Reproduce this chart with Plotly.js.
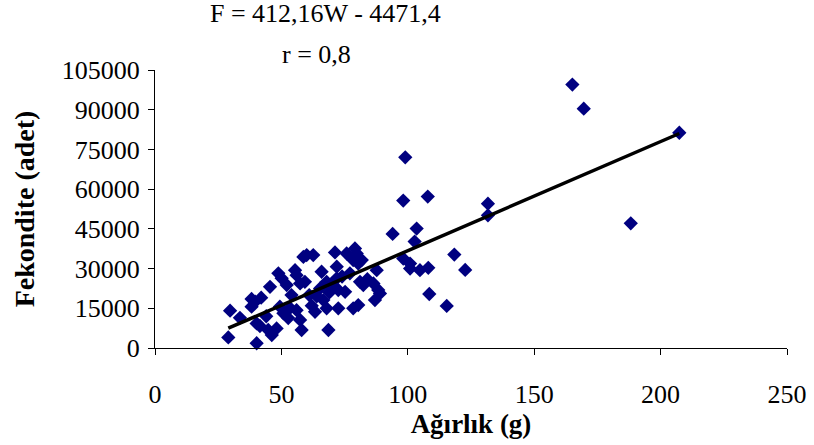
<!DOCTYPE html>
<html>
<head>
<meta charset="utf-8">
<script src="https://cdn.plot.ly/plotly-3.0.1.min.js"></script>
<style>html,body{margin:0;padding:0;background:#fff;}#chart{width:814px;height:445px;}</style>
</head>
<body>
<div id="chart"></div>
<script>
// Weight (g)
const weight = [29.7,29.0,33.6,38.2,39.6,38.2,40.2,41.5,40.2,45.5,48.8,50.1,52.1,44.8,46.2,48.1,49.4,50.8,52.7,53.4,
  55.4,56.0,57.4,59.3,57.4,58.0,56.0,58.7,60.0,62.6,63.3,65.3,65.9,66.6,67.9,68.6,67.9,71.2,71.9,71.9,
  72.5,72.5,75.2,75.8,77.1,78.4,79.1,79.8,78.4,80.4,81.1,82.4,80.4,81.8,86.4,87.7,88.3,89.0,87.0,
  94.0,98.2,100.9,100.9,104.8,108.1,108.5,115.4,118.4,122.7,102.7,103.5,98.2,99.0,107.9,131.7,131.7,
  165.1,169.6,207.4,188.2,42.0,44.0,54.0,61.0,62.0,64.0,69.0,70.0,74.0,84.0];
// Fecundity (adet)
const fecundity = [14100,4000,11400,18500,17500,15600,9300,8300,1800,23100,28200,26300,23800,6800,4900,7400,15600,13100,11300,15100,
  29400,27500,24400,25000,10600,6800,14300,34400,35100,35100,13700,22500,28800,18100,25000,6800,15000,36100,30700,26300,
  21900,15000,21200,35700,28200,33200,37600,35700,15000,16200,25000,23800,31900,33200,24400,29400,21900,20600,18100,
  43100,33800,31900,30000,29400,30300,20400,15900,35300,29500,40200,45100,55700,72000,57200,54500,50100,
  99500,90400,81300,47100,19000,12000,20000,20000,16000,19500,21000,24000,27000,26000];
// Regression: F = 412.16 W - 4471.4
const slope = 412.16, intercept = -4471.4;
const equationText = 'F = 412,16W - 4471,4';
const rText = 'r = 0,8';
const xTitle = 'Ağırlık (g)';
const yTitle = 'Fekondite (adet)';

const wMin = Math.min(...weight), wMax = Math.max(...weight);
const lineX = [wMin, wMax];
const lineY = lineX.map(w => slope * w + intercept);

const font = 'Liberation Serif, Times New Roman, serif';

const data = [
  {x: weight, y: fecundity, type: 'scatter', mode: 'markers',
   marker: {symbol: 'diamond', color: '#000080', size: 11, line: {width: 0}}, cliponaxis: false},
  {x: lineX, y: lineY, type: 'scatter', mode: 'lines', line: {color: '#000000', width: 3.5}}
];

const layout = {
  width: 814, height: 445,
  margin: {l: 155, r: 27, t: 70, b: 97, pad: 0},
  paper_bgcolor: '#ffffff', plot_bgcolor: '#ffffff',
  showlegend: false,
  font: {family: font, color: '#000000', size: 26},
  xaxis: {
    range: [0, 250], dtick: 50, tick0: 0,
    showgrid: false, zeroline: false, showline: true, linecolor: '#000', linewidth: 1,
    ticks: 'outside', ticklen: 6, tickcolor: '#000', tickwidth: 1,
    ticklabelstandoff: 17,
    tickfont: {family: font, size: 26},
    title: {text: '<b>' + xTitle + '</b>', font: {family: font, size: 27}, standoff: 0},
    automargin: false
  },
  yaxis: {
    range: [0, 105000], dtick: 15000, tick0: 0, tickformat: 'd',
    showgrid: false, zeroline: false, showline: true, linecolor: '#000', linewidth: 1,
    ticks: 'outside', ticklen: 6, tickcolor: '#000', tickwidth: 1,
    ticklabelstandoff: 3,
    tickfont: {family: font, size: 26},
    title: {text: '<b>' + yTitle + '</b>', font: {family: font, size: 28}, standoff: 18},
    automargin: false
  },
  annotations: [
    {text: equationText, xref: 'paper', yref: 'paper', x: 0.27, y: 1, yshift: 57, showarrow: false,
     xanchor: 'center', yanchor: 'middle', font: {family: font, size: 26}},
    {text: rText, xref: 'paper', yref: 'paper', x: 0.256, y: 1, yshift: 16, showarrow: false,
     xanchor: 'center', yanchor: 'middle', font: {family: font, size: 26}}
  ]
};

Plotly.newPlot('chart', data, layout, {displayModeBar: false, staticPlot: true});
</script>
</body>
</html>
